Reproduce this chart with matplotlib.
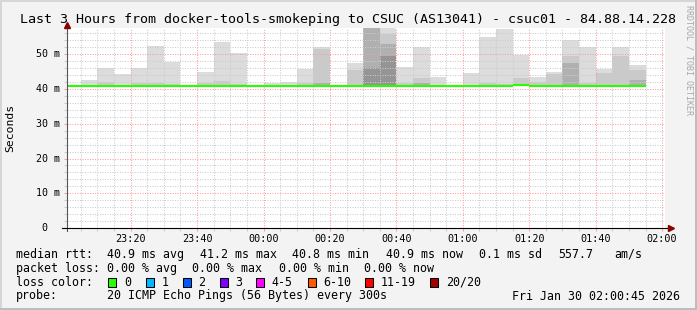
import numpy as np
import pandas as pd
import matplotlib
matplotlib.use("Agg")
import matplotlib.pyplot as plt
import matplotlib.dates as mdates
import matplotlib.transforms as mtransforms
from matplotlib.patches import Rectangle
from matplotlib.lines import Line2D
from matplotlib.ticker import MultipleLocator

W, H = 697, 310
MONO = "DejaVu Sans Mono"

title = "Last 3 Hours from docker-tools-smokeping to CSUC (AS13041) - csuc01 - 84.88.14.228"

# one column per 5 minute step, 23:00 .. 01:50
step_start = pd.date_range("2026-01-29 23:00", "2026-01-30 01:50", freq="5min")

# smoke bands in ms (bottom, then top of each band from outer/light to inner/dark)
smoke_min = [40.6, 40.6, 40.6, 40.6, 40.6, 40.6, 40.6, 40.6, 40.6, 40.6,
             40.6, 40.6, 40.6, 40.6, 40.6, 40.6, 40.6, 40.6, 40.6, 40.6,
             40.6, 40.6, 40.6, 40.6, 40.6, 40.6, 40.6, 41.0, 40.6, 40.6,
             40.6, 40.6, 40.6, 40.6, 40.6]
smoke_1 = [41.0, 42.5, 46.0, 44.2, 46.0, 52.3, 47.9, 41.0, 44.9, 53.5,
           50.5, 41.0, 41.7, 41.9, 45.8, 52.1, 41.0, 47.4, 66.0, 60.0,
           46.4, 52.1, 43.6, 41.0, 44.5, 55.0, 57.4, 49.8, 43.5, 44.9,
           54.0, 52.1, 45.9, 52.1, 46.9]
smoke_2 = [np.nan, np.nan, 42.0, np.nan, 41.6, 41.6, 41.5, np.nan, 41.8, 42.2,
           41.5, np.nan, np.nan, np.nan, 41.6, 51.6, np.nan, 45.5, 64.0, 55.9,
           41.8, 43.1, 41.3, np.nan, 41.3, 41.6, 41.5, 43.1, 42.0, 44.4,
           49.5, 41.6, 44.5, 49.6, 45.4]
smoke_3 = [np.nan, np.nan, np.nan, np.nan, np.nan, np.nan, np.nan, np.nan, np.nan, np.nan,
           np.nan, np.nan, np.nan, np.nan, np.nan, 41.8, np.nan, np.nan, 61.0, 52.9,
           np.nan, 41.8, np.nan, np.nan, np.nan, np.nan, np.nan, np.nan, np.nan, np.nan,
           47.4, np.nan, np.nan, np.nan, 42.5]
smoke_4 = [np.nan, np.nan, np.nan, np.nan, np.nan, np.nan, np.nan, np.nan, np.nan, np.nan,
           np.nan, np.nan, np.nan, np.nan, np.nan, np.nan, np.nan, np.nan, 46.0, 49.5,
           np.nan, np.nan, np.nan, np.nan, np.nan, np.nan, np.nan, np.nan, np.nan, np.nan,
           np.nan, np.nan, np.nan, np.nan, np.nan]
median_rtt = [40.8, 40.8, 40.9, 40.8, 40.8, 40.9, 40.8, 40.8, 40.8, 40.9,
              40.8, 40.8, 40.8, 40.8, 40.9, 40.8, 40.8, 40.8, 40.9, 40.9,
              40.8, 40.8, 40.8, 40.8, 40.8, 40.9, 40.8, 41.2, 40.9, 40.8,
              40.8, 40.8, 40.8, 40.8, 40.9]

smoke_colors = ["#dcdcdc", "#cacaca", "#b0b0b0", "#959595"]

loss_labels = ["0", "1", "2", "3", "4-5", "6-10", "11-19", "20/20"]
loss_colors = ["#26ff00", "#00b8ff", "#0059ff", "#7e00ff", "#ff00ff", "#ff5a00", "#ff0000", "#a10000"]

yticks = [0, 10, 20, 30, 40, 50]
ytick_labels = ["0", "10 m", "20 m", "30 m", "40 m", "50 m"]

stats_rtt = ["40.9 ms avg", "41.2 ms max", "40.8 ms min", "40.9 ms now", "0.1 ms sd", "557.7", "am/s"]
stats_loss = ["0.00 % avg", "0.00 % max", "0.00 % min", "0.00 % now"]
probe_text = "20 ICMP Echo Pings (56 Bytes) every 300s"
stamp = "Fri Jan 30 02:00:45 2026"


def fx(px):
    return px / W


def fy(py):
    return 1 - py / H


fig = plt.figure(figsize=(W / 100, H / 100), dpi=100, facecolor="#f3f3f3")
ax = fig.add_axes([fx(66.7), 82 / H, 597.9 / W, 200 / H])
ax.set_facecolor("white")
for s in ax.spines.values():
    s.set_visible(False)

# smoke
x0 = mdates.date2num(step_start)
width = 5 / 1440
base = np.array(smoke_min)
for vals, col in zip([smoke_1, smoke_2, smoke_3, smoke_4], smoke_colors):
    v = np.array(vals, dtype=float)
    h = np.where(np.isnan(v), 0, v - base)
    ax.bar(x0, h, bottom=base, width=width, align="edge", color=col, linewidth=0, zorder=1)

# median line
ax.hlines(median_rtt, x0, x0 + width, colors=loss_colors[0], linewidth=1.5, zorder=3)

ax.set_xlim(mdates.date2num(pd.Timestamp("2026-01-29 23:00:45")),
            mdates.date2num(pd.Timestamp("2026-01-30 02:00:45")))
ax.set_ylim(0, 57.57)

# grid
ax.xaxis.set_major_locator(mdates.MinuteLocator(byminute=[0, 20, 40]))
ax.xaxis.set_minor_locator(mdates.MinuteLocator(byminute=range(0, 60, 5)))
ax.xaxis.set_major_formatter(mdates.DateFormatter("%H:%M"))
ax.yaxis.set_major_locator(MultipleLocator(10))
ax.yaxis.set_minor_locator(MultipleLocator(2))
ax.set_axisbelow(False)
ax.grid(which="major", color="#ff9c9c", linestyle=(0, (1, 1.4)), linewidth=0.75)
ax.grid(which="minor", color="#cccccc", linestyle=(0, (1, 1.4)), linewidth=0.75)
ax.tick_params(which="major", length=2, width=0.75, color="#ff9c9c")
ax.tick_params(which="minor", length=2, width=0.75, color="#cccccc")
ax.tick_params(axis="x", labelsize=7.3, pad=2.5)
ax.set_yticklabels([])
for lab in ax.get_xticklabels():
    lab.set_family(MONO)

# y labels
blend = mtransforms.blended_transform_factory(ax.transAxes, ax.transData)
for v, lab in zip(yticks, ytick_labels):
    xpos = (60 - 66.7) / 597.9 if v else (47.5 - 66.7) / 597.9
    ax.text(xpos, v, lab, transform=blend, ha="right", va="center",
            fontsize=7.2, family=MONO)

# axis lines with arrows
ax.plot([0, 0], [-3 / 200, 1 + 5 / 200], transform=ax.transAxes, clip_on=False,
        color="#555555", linewidth=0.8, zorder=4)
ax.plot([0], [1 + 3 / 200], transform=ax.transAxes, clip_on=False, marker="^",
        markersize=4.5, color="#8b0000", zorder=5)
ax.plot([(62 - 66.7) / 597.9, 1 + 4 / 597.9], [0, 0], transform=ax.transAxes,
        clip_on=False, color="black", linewidth=0.8, zorder=4)
ax.plot([1 + 6 / 597.9], [0], transform=ax.transAxes, clip_on=False, marker=">",
        markersize=4.5, color="#8b0000", zorder=5)

# texts
fig.text(0.5, fy(19.5), title, ha="center", va="center", fontsize=9.6, family=MONO)
fig.text(fx(10.5), fy(128), "Seconds", rotation=90, ha="center", va="center",
         fontsize=8.2, family=MONO)
fig.text(fx(689.5), fy(5), "RRDTOOL / TOBI OETIKER", rotation=270, ha="center", va="top",
         fontsize=6, family=MONO, color="#a8a8a8")

fs = 8.35
fig.text(fx(16), fy(254.3), "median rtt:", va="center", fontsize=fs, family=MONO)
for xp, s in zip([107, 199.5, 292.5, 385.8, 479, 557.8, 614.7], stats_rtt):
    fig.text(fx(xp), fy(254.3), s, va="center", fontsize=fs, family=MONO)
fig.text(fx(16), fy(268.3), "packet loss:", va="center", fontsize=fs, family=MONO)
for xp, s in zip([107, 192.4, 279, 364.4], stats_loss):
    fig.text(fx(xp), fy(268.3), s, va="center", fontsize=fs, family=MONO)
fig.text(fx(16), fy(282.3), "loss color:", va="center", fontsize=fs, family=MONO)
for xp, lab, col in zip([108.4, 145.8, 182.7, 219.6, 256.4, 307.6, 365.3, 430.2],
                        loss_labels, loss_colors):
    fig.add_artist(Rectangle((fx(xp), fy(286.8)), 8 / W, 9 / H, transform=fig.transFigure,
                             facecolor=col, edgecolor="black", linewidth=0.75))
    fig.text(fx(xp + 15.5), fy(282.3), lab, va="center", fontsize=fs, family=MONO)
fig.text(fx(16), fy(296), "probe:", va="center", fontsize=fs, family=MONO)
fig.text(fx(107), fy(296), probe_text, va="center", fontsize=fs, family=MONO)
fig.text(fx(680), fy(296), stamp, ha="right", va="center", fontsize=fs, family=MONO)

# 3d border
fig.add_artist(Line2D([0, 1], [fy(1), fy(1)], transform=fig.transFigure, color="#d6d6d6", linewidth=1.44))
fig.add_artist(Line2D([fx(1), fx(1)], [0, 1], transform=fig.transFigure, color="#d6d6d6", linewidth=1.44))
fig.add_artist(Line2D([0, 1], [fy(309), fy(309)], transform=fig.transFigure, color="#bdbdbd", linewidth=1.44))
fig.add_artist(Line2D([fx(696), fx(696)], [0, 1], transform=fig.transFigure, color="#bdbdbd", linewidth=1.44))

fig.savefig("out.png", dpi=100, facecolor=fig.get_facecolor())
